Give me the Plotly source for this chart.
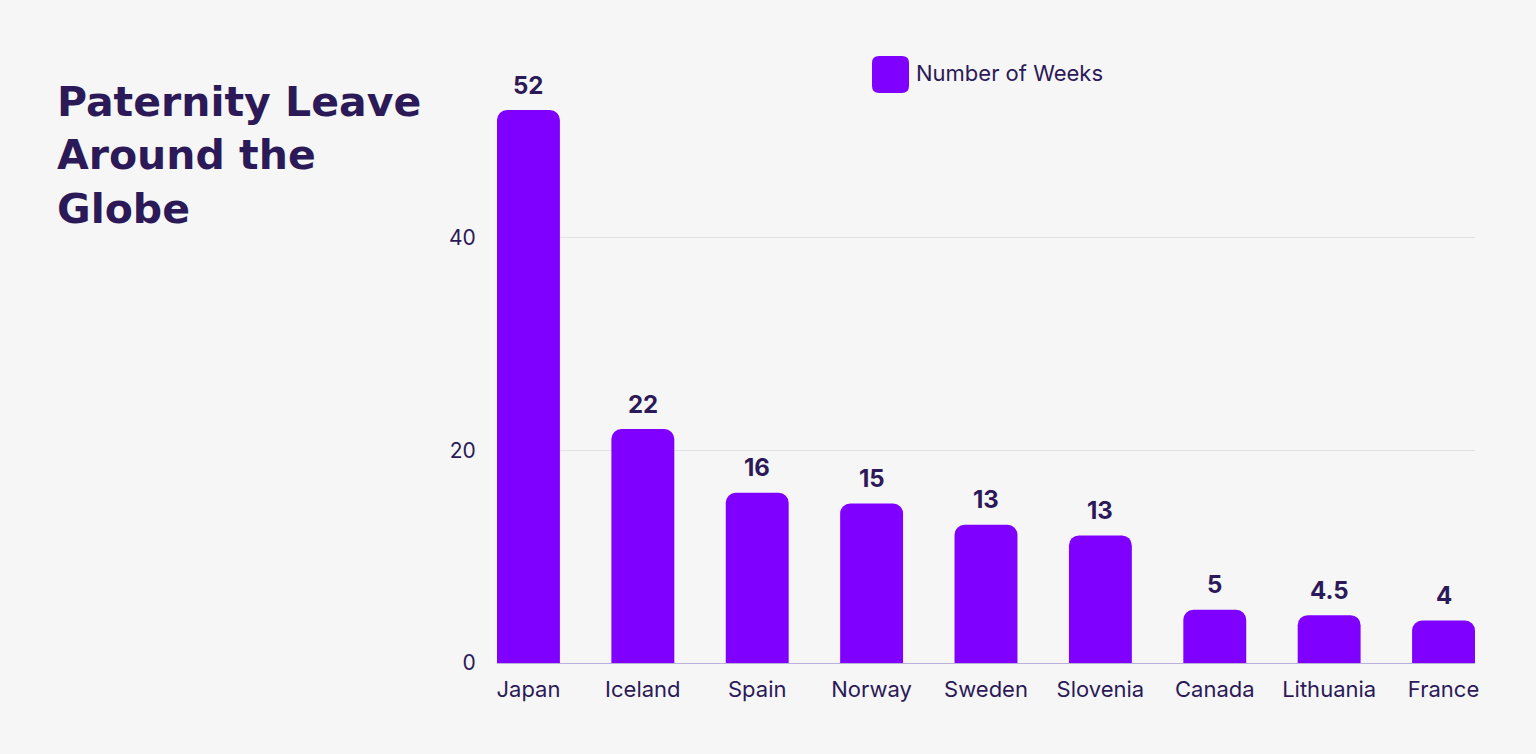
import plotly.graph_objects as go

countries = ["Japan", "Iceland", "Spain", "Norway", "Sweden", "Slovenia", "Canada", "Lithuania", "France"]
weeks = [52, 22, 16, 15, 13, 12, 5, 4.5, 4]
value_labels = ["52", "22", "16", "15", "13", "13", "5", "4.5", "4"]
y_ticks = [0, 20, 40]

W, H = 1536, 754
L, R, T, B = 497, 1475, 110, 663

BAR = "#8000ff"
INK = "#2b1a57"
BG = "#f6f6f6"
FONT = "Inter"


def px(x):
    return (x - L) / (R - L)


def py(y):
    return (B - y) / (B - T)


fig = go.Figure()
fig.add_trace(go.Bar(
    x=countries, y=weeks, name="Number of Weeks",
    marker=dict(color=BAR, cornerradius=10, line=dict(width=0)),
    showlegend=False,
))

for c, v, t in zip(countries, weeks, value_labels):
    fig.add_annotation(x=c, y=v, xref="x", yref="y", text=t, showarrow=False,
                       yanchor="middle", yshift=25,
                       font=dict(family=FONT, size=24, color=INK, weight=700))

# legend swatch (rounded square) + label
lx0, lx1 = px(872), px(909)
ly0, ly1 = py(93), py(56)
rx, ry = 7 / (R - L), 7 / (B - T)
path = (f"M {lx0+rx},{ly0} L {lx1-rx},{ly0} Q {lx1},{ly0} {lx1},{ly0+ry} "
        f"L {lx1},{ly1-ry} Q {lx1},{ly1} {lx1-rx},{ly1} L {lx0+rx},{ly1} "
        f"Q {lx0},{ly1} {lx0},{ly1-ry} L {lx0},{ly0+ry} Q {lx0},{ly0} {lx0+rx},{ly0} Z")
fig.add_shape(type="path", path=path, xref="paper", yref="paper",
              fillcolor=BAR, line=dict(width=0))
fig.add_annotation(x=px(914), y=py(73), xref="paper", yref="paper",
                   text="Number of Weeks", showarrow=False, xanchor="left", yanchor="middle",
                   font=dict(family=FONT, size=22, color=INK))

fig.add_annotation(x=px(55), y=py(76), xref="paper", yref="paper",
                   text="Paternity Leave<br>Around the<br>Globe", showarrow=False,
                   xanchor="left", yanchor="top", align="left",
                   font=dict(family="DejaVu Sans", size=41, color=INK, weight=700))

fig.update_layout(
    width=W, height=H,
    paper_bgcolor=BG, plot_bgcolor=BG,
    margin=dict(l=L, r=W - R, t=T, b=H - B, pad=0),
    bargap=0.45,
    font=dict(family=FONT, color=INK),
    xaxis=dict(range=[-0.275, 8.275], showgrid=False, showline=True, linecolor="#b9b0dc",
               linewidth=1, ticks="", ticklabelstandoff=7,
               tickfont=dict(size=22, color=INK, family=FONT)),
    yaxis=dict(range=[0, 52], tickvals=y_ticks, showgrid=True, gridcolor="#e2e2e2",
               zeroline=False, showline=False, ticks="outside", ticklen=16,
               tickcolor="rgba(0,0,0,0)", tickfont=dict(size=21, color=INK, family=FONT)),
)

fig.write_html("out.html")
